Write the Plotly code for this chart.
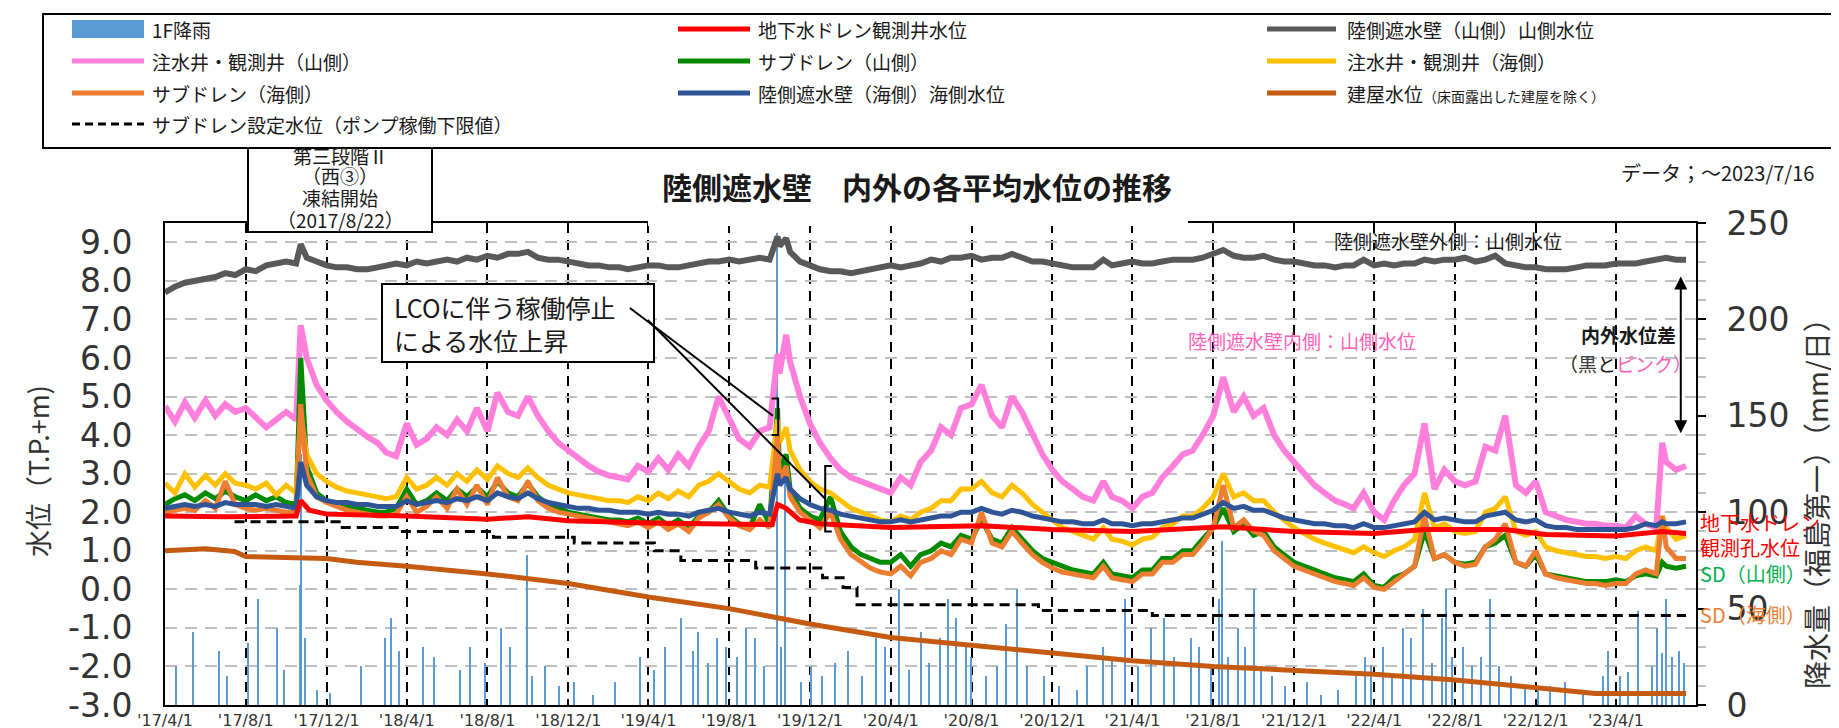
import plotly.graph_objects as go
from datetime import date, timedelta

# ---------------- data ----------------
EVENT_DATES = ["2017-10-23", "2019-10-13", "2019-10-26", "2023-06-10"]


def semi_monthly(y0, m0, y1, m1):
    out = []
    y, m = y0, m0
    while (y, m) <= (y1, m1):
        out += [f"{y}-{m:02d}-01", f"{y}-{m:02d}-16"]
        m += 1
        if m == 13:
            y, m = y + 1, 1
    return out


obs_dates = sorted(semi_monthly(2017, 4, 2023, 7) + EVENT_DATES)

# 陸側遮水壁（山側）山側水位
gray_level = [
    7.70, 7.85, 7.95, 8.00, 8.05, 8.10, 8.20, 8.15, 8.30, 8.25, 8.40, 8.45, 8.50, 8.45, 8.95, 8.60, 8.50, 8.40, 8.35,
    8.35, 8.30, 8.30, 8.35, 8.40, 8.45, 8.40, 8.50, 8.45, 8.50, 8.55, 8.50, 8.60, 8.55, 8.65, 8.60, 8.70, 8.70, 8.75, 8.60, 8.55, 8.55, 8.50, 8.45,
    8.40, 8.40, 8.35, 8.35, 8.30, 8.35, 8.40, 8.40, 8.35, 8.35, 8.40, 8.45, 8.50, 8.50, 8.55, 8.50, 8.55, 8.60, 8.55, 9.15, 8.90, 9.10, 8.75, 8.50, 8.40, 8.30,
    8.25, 8.25, 8.20, 8.25, 8.30, 8.35, 8.40, 8.35, 8.40, 8.45, 8.55, 8.50, 8.60, 8.60, 8.65, 8.55, 8.60, 8.60, 8.70, 8.60, 8.50, 8.50, 8.45, 8.40,
    8.35, 8.35, 8.35, 8.55, 8.40, 8.45, 8.50, 8.45, 8.45, 8.50, 8.55, 8.55, 8.55, 8.60, 8.70, 8.80, 8.65, 8.60, 8.60, 8.65, 8.55, 8.50, 8.50, 8.45,
    8.40, 8.40, 8.35, 8.40, 8.40, 8.55, 8.40, 8.45, 8.40, 8.45, 8.45, 8.55, 8.50, 8.55, 8.55, 8.60, 8.50, 8.55, 8.65, 8.45, 8.40, 8.35, 8.35, 8.30,
    8.30, 8.30, 8.35, 8.40, 8.40, 8.40, 8.45, 8.45, 8.45, 8.50, 8.55, 8.55, 8.60, 8.55, 8.55,
]
# 注水井・観測井（山側）
pink_level = [
    4.75, 4.35, 4.85, 4.45, 4.90, 4.50, 4.80, 4.60, 4.70, 4.45, 4.20, 4.40, 4.60, 4.40, 6.85, 6.00, 5.30, 4.90, 4.60,
    4.35, 4.15, 3.95, 3.80, 3.55, 3.45, 4.30, 3.75, 3.90, 4.20, 4.00, 4.40, 4.10, 4.70, 4.10, 5.10, 4.60, 4.50, 5.00, 4.50, 4.10, 3.80, 3.60, 3.40,
    3.20, 3.05, 2.95, 2.90, 2.85, 3.20, 3.05, 3.40, 3.10, 3.50, 3.20, 3.70, 4.10, 5.00, 4.40, 3.90, 3.70, 4.10, 4.20, 6.10, 5.60, 6.60, 5.90, 5.00, 4.30, 3.80,
    3.40, 3.10, 2.90, 2.80, 2.70, 2.60, 2.50, 2.90, 2.70, 3.30, 3.60, 4.20, 4.00, 4.70, 4.80, 5.30, 4.50, 4.20, 5.00, 4.60, 4.00, 3.50, 3.10, 2.80,
    2.60, 2.40, 2.30, 2.80, 2.40, 2.30, 2.10, 2.40, 2.50, 2.90, 3.20, 3.50, 3.60, 4.00, 4.50, 5.50, 4.60, 5.00, 4.50, 4.70, 4.00, 3.60, 3.30, 3.00,
    2.70, 2.50, 2.30, 2.20, 2.10, 2.50, 2.00, 1.80, 2.30, 2.70, 3.00, 4.30, 2.60, 3.10, 2.80, 2.70, 2.80, 3.70, 3.60, 4.50, 2.70, 2.50, 2.80, 2.00,
    1.90, 1.80, 1.75, 1.70, 1.70, 1.65, 1.65, 1.60, 1.90, 1.70, 1.60, 3.80, 3.30, 3.10, 3.20,
]
# 注水井・観測井（海側）
yellow_level = [
    2.75, 2.50, 3.00, 2.65, 2.95, 2.70, 3.00, 2.75, 2.70, 2.60, 2.75, 2.45, 2.70, 2.50, 4.50, 3.50, 3.00, 2.80, 2.65,
    2.55, 2.50, 2.45, 2.40, 2.35, 2.40, 2.90, 2.60, 2.70, 2.90, 2.70, 3.00, 2.80, 3.10, 2.85, 3.20, 3.00, 2.90, 3.15, 2.90, 2.70, 2.60, 2.50, 2.45,
    2.40, 2.35, 2.30, 2.30, 2.25, 2.40, 2.30, 2.50, 2.35, 2.55, 2.40, 2.70, 2.80, 3.00, 2.80, 2.60, 2.50, 2.70, 2.65, 4.40, 3.80, 4.20, 3.60, 3.10, 2.80, 2.60,
    2.50, 2.30, 2.10, 2.00, 1.90, 1.80, 1.75, 1.90, 1.80, 2.00, 2.10, 2.30, 2.30, 2.60, 2.60, 2.80, 2.50, 2.40, 2.70, 2.50, 2.20, 2.00, 1.80, 1.60,
    1.50, 1.40, 1.30, 1.60, 1.30, 1.25, 1.15, 1.30, 1.35, 1.60, 1.70, 1.90, 1.90, 2.10, 2.40, 3.00, 2.40, 2.50, 2.30, 2.30, 2.00, 1.80, 1.60, 1.45,
    1.30, 1.20, 1.10, 1.00, 0.95, 1.10, 0.95, 0.85, 1.00, 1.10, 1.30, 2.50, 1.60, 1.70, 1.50, 1.45, 1.50, 2.00, 2.10, 2.40, 1.50, 1.40, 1.50, 1.10,
    1.00, 0.95, 0.90, 0.85, 0.85, 0.80, 0.85, 0.80, 1.00, 1.10, 1.00, 1.90, 1.60, 1.30, 1.40,
]
# サブドレン（山側）
green_level = [
    2.20, 2.35, 2.45, 2.30, 2.50, 2.35, 2.55, 2.40, 2.30, 2.45, 2.30, 2.40, 2.25, 2.20, 6.00, 3.20, 2.50, 2.30, 2.20,
    2.15, 2.10, 2.05, 2.00, 2.00, 2.10, 2.60, 2.20, 2.30, 2.50, 2.30, 2.60, 2.40, 2.65, 2.40, 2.80, 2.50, 2.40, 2.75, 2.40, 2.20, 2.10, 2.00, 1.95,
    1.90, 1.85, 1.80, 1.80, 1.75, 1.85, 1.70, 1.85, 1.65, 1.80, 1.60, 1.90, 2.00, 2.30, 1.90, 1.70, 1.60, 2.20, 1.70, 4.70, 3.00, 3.50, 2.60, 2.10, 1.90, 1.80,
    2.40, 1.50, 1.10, 0.90, 0.80, 0.70, 0.70, 0.90, 0.60, 0.90, 1.00, 1.20, 1.10, 1.40, 1.30, 1.80, 1.30, 1.20, 1.60, 1.30, 1.00, 0.80, 0.70, 0.60,
    0.50, 0.45, 0.40, 0.70, 0.40, 0.35, 0.30, 0.50, 0.50, 0.80, 0.80, 1.00, 1.00, 1.30, 1.60, 2.10, 1.50, 1.70, 1.40, 1.50, 1.10, 0.90, 0.70, 0.60,
    0.50, 0.40, 0.30, 0.25, 0.20, 0.40, 0.10, 0.05, 0.30, 0.40, 0.60, 1.50, 0.80, 0.90, 0.70, 0.65, 0.70, 1.10, 1.20, 1.40, 0.70, 0.60, 0.90, 0.40,
    0.35, 0.30, 0.25, 0.20, 0.20, 0.20, 0.25, 0.20, 0.35, 0.40, 0.35, 0.70, 0.60, 0.55, 0.60,
]
# サブドレン（海側）
orange_level = [
    2.00, 2.05, 2.10, 2.05, 2.30, 2.10, 2.80, 2.20, 2.10, 2.05, 2.10, 2.05, 2.00, 2.00, 4.80, 3.00, 2.40, 2.25, 2.15,
    2.05, 2.00, 1.95, 1.90, 1.90, 1.95, 2.40, 2.00, 2.15, 2.40, 2.10, 2.60, 2.20, 2.70, 2.20, 2.90, 2.40, 2.30, 2.80, 2.30, 2.10, 2.00, 1.95, 1.90,
    1.85, 1.80, 1.75, 1.70, 1.65, 1.75, 1.60, 1.75, 1.55, 1.70, 1.50, 1.85, 2.00, 2.20, 1.85, 1.65, 1.55, 1.80, 1.60, 4.00, 2.80, 3.20, 2.40, 2.00, 1.80, 1.60,
    2.00, 1.30, 0.90, 0.70, 0.55, 0.45, 0.40, 0.60, 0.35, 0.70, 0.80, 1.00, 0.90, 1.30, 1.20, 2.00, 1.20, 1.10, 1.50, 1.20, 0.90, 0.70, 0.55, 0.45,
    0.40, 0.35, 0.30, 0.60, 0.30, 0.25, 0.20, 0.40, 0.40, 0.70, 0.70, 0.90, 0.90, 1.20, 1.60, 2.70, 1.60, 1.80, 1.50, 1.40, 1.00, 0.80, 0.60, 0.50,
    0.40, 0.30, 0.20, 0.15, 0.10, 0.30, 0.05, 0.00, 0.20, 0.40, 0.60, 1.90, 0.80, 0.90, 0.70, 0.60, 0.65, 1.10, 1.30, 1.70, 0.70, 0.60, 1.00, 0.40,
    0.30, 0.25, 0.20, 0.15, 0.15, 0.10, 0.15, 0.15, 0.40, 0.50, 0.40, 1.90, 1.10, 0.80, 0.80,
]
# 陸側遮水壁（海側）海側水位
blue_level = [
    2.10, 2.15, 2.20, 2.15, 2.20, 2.15, 2.25, 2.20, 2.20, 2.20, 2.15, 2.20, 2.15, 2.10, 3.30, 2.70, 2.40, 2.30, 2.25,
    2.25, 2.20, 2.20, 2.15, 2.15, 2.15, 2.30, 2.20, 2.25, 2.30, 2.25, 2.35, 2.30, 2.40, 2.30, 2.50, 2.40, 2.35, 2.50, 2.35, 2.25, 2.20, 2.15, 2.10,
    2.10, 2.05, 2.05, 2.00, 2.00, 2.00, 1.95, 2.00, 1.95, 1.95, 1.90, 2.00, 2.05, 2.10, 2.00, 1.95, 1.90, 2.00, 1.95, 3.00, 2.70, 2.90, 2.60, 2.35, 2.20, 2.10,
    2.05, 1.95, 1.90, 1.85, 1.80, 1.75, 1.75, 1.80, 1.75, 1.80, 1.85, 1.90, 1.90, 2.00, 2.00, 2.10, 2.00, 1.95, 2.05, 2.00, 1.90, 1.85, 1.80, 1.75,
    1.75, 1.70, 1.70, 1.80, 1.70, 1.70, 1.65, 1.70, 1.70, 1.75, 1.80, 1.85, 1.85, 1.95, 2.05, 2.25, 2.10, 2.15, 2.05, 2.05, 1.95, 1.85, 1.80, 1.75,
    1.70, 1.70, 1.65, 1.65, 1.60, 1.70, 1.60, 1.60, 1.65, 1.70, 1.75, 2.00, 1.80, 1.85, 1.80, 1.75, 1.75, 1.90, 1.95, 2.00, 1.80, 1.75, 1.80, 1.65,
    1.60, 1.60, 1.55, 1.55, 1.55, 1.55, 1.55, 1.55, 1.60, 1.70, 1.65, 1.75, 1.70, 1.70, 1.75,
]

# 地下水ドレン観測井水位
red_dates = ["2017-04-01", "2017-07-01", "2017-10-16", "2017-10-23", "2017-11-05", "2017-12-01", "2018-04-01",
             "2018-08-01", "2018-10-01", "2018-12-01", "2019-04-01", "2019-08-01", "2019-10-05", "2019-10-13",
             "2019-10-26", "2019-11-15", "2019-12-15", "2020-04-01", "2020-08-16", "2020-12-01", "2021-04-01",
             "2021-08-16", "2021-12-01", "2022-04-01", "2022-06-16", "2022-10-16", "2022-12-16", "2023-04-01",
             "2023-06-10", "2023-07-16"]
red_level = [1.90, 1.88, 1.90, 2.30, 2.05, 1.95, 1.90, 1.82, 1.88, 1.78, 1.72, 1.68, 1.68, 2.20, 2.10, 1.80, 1.70,
             1.60, 1.65, 1.55, 1.50, 1.62, 1.50, 1.45, 1.55, 1.55, 1.42, 1.38, 1.50, 1.45]

# 建屋水位
bldg_dates = ["2017-04-01", "2017-06-01", "2017-07-15", "2017-08-01", "2017-12-01", "2018-01-15", "2018-04-01",
              "2018-08-01", "2018-12-01", "2019-04-01", "2019-08-01", "2019-12-01", "2020-04-01", "2020-08-01",
              "2020-12-01", "2021-04-01", "2021-08-01", "2021-12-01", "2022-04-01", "2022-08-01", "2022-12-01",
              "2023-03-01", "2023-07-16"]
bldg_level = [1.00, 1.05, 0.98, 0.85, 0.80, 0.70, 0.60, 0.40, 0.15, -0.20, -0.50, -0.90, -1.25, -1.45, -1.65,
              -1.85, -2.00, -2.10, -2.20, -2.35, -2.55, -2.70, -2.70]

# サブドレン設定水位（ポンプ稼働下限値）
setpoint_dates = ["2017-07-15", "2017-12-20", "2018-03-20", "2018-08-10", "2018-12-10", "2019-04-10",
                  "2019-05-20", "2019-09-10", "2019-12-20", "2020-01-20", "2020-02-10", "2020-11-10", "2021-05-01",
                  "2023-07-16"]
setpoint_level = [1.75, 1.60, 1.50, 1.35, 1.20, 1.00, 0.75, 0.55, 0.30, 0.05, -0.40, -0.55, -0.68, -0.68]

# 1F降雨 (mm/日)
rain_dates = [
    "2017-04-18", "2017-05-13", "2017-06-21", "2017-07-04", "2017-08-05", "2017-08-19", "2017-09-17", "2017-09-28",
    "2017-10-22", "2017-10-23", "2017-10-29", "2017-11-16", "2017-12-06",
    "2018-01-22", "2018-02-28", "2018-03-09", "2018-03-21", "2018-04-25", "2018-05-13", "2018-06-20", "2018-07-05",
    "2018-07-29", "2018-08-21", "2018-09-04", "2018-09-30", "2018-10-07", "2018-10-27", "2018-11-17", "2018-12-10",
    "2019-01-08", "2019-02-10", "2019-03-19", "2019-04-10", "2019-04-26", "2019-05-20", "2019-06-07", "2019-06-15",
    "2019-06-30", "2019-07-14", "2019-07-27", "2019-08-13", "2019-08-27", "2019-09-09", "2019-09-22", "2019-10-12",
    "2019-10-18", "2019-10-25", "2019-11-18", "2019-12-03", "2019-12-19",
    "2020-01-08", "2020-01-27", "2020-02-17", "2020-03-10", "2020-03-23", "2020-04-13", "2020-04-29", "2020-05-17",
    "2020-05-29", "2020-06-14", "2020-06-26", "2020-07-08", "2020-07-24", "2020-07-31", "2020-08-23", "2020-09-09",
    "2020-09-22", "2020-10-09", "2020-10-24", "2020-11-19", "2020-12-11",
    "2021-01-08", "2021-01-23", "2021-02-15", "2021-03-01", "2021-03-21", "2021-04-10", "2021-04-29", "2021-05-19",
    "2021-06-03", "2021-06-28", "2021-07-10", "2021-07-29", "2021-08-09", "2021-08-14", "2021-08-24", "2021-09-08",
    "2021-09-18", "2021-10-01", "2021-10-12", "2021-10-28", "2021-11-18", "2021-12-21",
    "2022-01-10", "2022-02-05", "2022-03-04", "2022-03-18", "2022-03-27", "2022-04-14", "2022-04-28", "2022-05-14",
    "2022-05-27", "2022-06-14", "2022-06-28", "2022-07-12", "2022-07-19", "2022-07-28", "2022-08-13", "2022-08-27",
    "2022-09-10", "2022-09-23", "2022-10-06", "2022-10-25", "2022-11-15", "2022-12-05", "2022-12-23",
    "2023-01-14", "2023-02-10", "2023-03-12", "2023-03-20", "2023-04-08", "2023-04-20", "2023-05-05", "2023-05-25",
    "2023-06-02", "2023-06-09", "2023-06-15", "2023-06-25", "2023-07-05", "2023-07-13",
]
rain_mm = [
    20, 38, 28, 15, 32, 55, 40, 18, 62, 130, 35, 8, 6,
    20, 35, 45, 28, 30, 25, 18, 30, 22, 40, 30, 78, 15, 20, 10, 12,
    5, 12, 25, 18, 30, 45, 28, 38, 22, 35, 30, 25, 40, 35, 20, 245, 30, 118, 12, 20, 15,
    22, 28, 15, 35, 30, 60, 18, 38, 22, 35, 55, 45, 30, 25, 15, 20, 42, 60, 20, 15, 10,
    8, 20, 30, 25, 55, 20, 40, 45, 25, 35, 30, 20, 55, 85, 25, 40, 30, 60, 20, 15, 10, 12,
    5, 8, 15, 25, 20, 30, 15, 40, 35, 50, 22, 45, 60, 25, 30, 20, 25, 55, 20, 15, 10, 8, 10,
    12, 8, 15, 28, 15, 17, 49, 20, 40, 27, 55, 25, 28, 22,
]

level_ticks = [-3.0, -2.0, -1.0, 0.0, 1.0, 2.0, 3.0, 4.0, 5.0, 6.0, 7.0, 8.0, 9.0]
level_tick_text = [f"{v:.1f}" for v in level_ticks]
rain_ticks = [0, 50, 100, 150, 200, 250]

for s in (gray_level, pink_level, yellow_level, green_level, orange_level, blue_level):
    assert len(s) == len(obs_dates), len(s)
assert len(rain_dates) == len(rain_mm)

# ---------------- geometry ----------------
FIG_W, FIG_H = 1839, 728
ML, MR, MT, MB = 157, 151, 215, 31
PW, PH = FIG_W - ML - MR, FIG_H - MT - MB
X0, X1 = date(2017, 4, 1), date(2023, 7, 31)
Y0, Y1 = -3.0, 9.5


def px(x):
    return (x - ML) / PW


def py(y):
    return (FIG_H - MB - y) / PH


def px_date(x):
    return (X0 + timedelta(days=round((x - ML) / PW * (X1 - X0).days))).isoformat()


def py_val(y):
    return Y0 + (FIG_H - MB - y) / PH * (Y1 - Y0)


JP = "Noto Sans CJK JP"
NUM = "DejaVu Sans"
PINK = "#FF7FDA"
PINK_TXT = "#FF5FB8"
TXT = "#1a1a1a"

fig = go.Figure()
fig.add_trace(go.Bar(x=rain_dates, y=rain_mm, xaxis="x", yaxis="y", width=1.6 * 86400000,
                     marker=dict(color="#5B9BD5", line=dict(width=0)), name="1F降雨"))

series = [
    (bldg_dates, bldg_level, "#C55A11", 5, "solid", "linear"),
    (setpoint_dates, setpoint_level, "#000000", 3, "10px,6px", "hv"),
    (obs_dates, gray_level, "#595959", 6, "solid", "linear"),
    (obs_dates, pink_level, PINK, 6, "solid", "linear"),
    (obs_dates, green_level, "#008A00", 5, "solid", "linear"),
    (obs_dates, yellow_level, "#FFC000", 5, "solid", "linear"),
    (obs_dates, orange_level, "#ED7D31", 5, "solid", "linear"),
    (obs_dates, blue_level, "#2F5597", 5, "solid", "linear"),
    (red_dates, red_level, "#FF0000", 5, "solid", "linear"),
]
for xs, ys, col, w, dash, shape in series:
    fig.add_trace(go.Scatter(x=xs, y=ys, mode="lines", xaxis="x", yaxis="y2",
                             line=dict(color=col, width=w, dash=dash, shape=shape)))

shapes = []
annotations = []


def label(x, y, text, size, color=TXT, xanchor="center", **kw):
    annotations.append(dict(xref="paper", yref="paper", x=px(x), y=py(y), xanchor=xanchor, yanchor="middle",
                            text=text, showarrow=False, font=dict(family=JP, size=size, color=color), **kw))


# title background & freeze box (cover the frame line)
shapes.append(dict(type="rect", xref="paper", yref="paper", x0=px(640), x1=px(1180), y0=py(218), y1=py(148),
                   fillcolor="white", line=dict(width=0), layer="above"))
shapes.append(dict(type="rect", xref="paper", yref="paper", x0=px(240), x1=px(424), y0=py(224), y1=py(140),
                   fillcolor="white", line=dict(color="black", width=2), layer="above"))
# legend box
shapes.append(dict(type="rect", xref="paper", yref="paper", x0=px(35), x1=px(1860), y0=py(140), y1=py(6),
                   fillcolor="rgba(0,0,0,0)", line=dict(color="black", width=2), layer="above"))

c1, c2, c3 = (64, 136, 142), (670, 742, 748), (1259, 1328, 1337)
r1, r2, r3, r4 = 21, 53, 85, 116
legend_items = [
    (c1, r1, "bar", "#5B9BD5", "1F降雨"),
    (c2, r1, "line", "#FF0000", "地下水ドレン観測井水位"),
    (c3, r1, "line", "#595959", "陸側遮水壁（山側）山側水位"),
    (c1, r2, "line", PINK, "注水井・観測井（山側）"),
    (c2, r2, "line", "#008A00", "サブドレン（山側）"),
    (c3, r2, "line", "#FFC000", "注水井・観測井（海側）"),
    (c1, r3, "line", "#ED7D31", "サブドレン（海側）"),
    (c2, r3, "line", "#2F5597", "陸側遮水壁（海側）海側水位"),
    (c3, r3, "line", "#C55A11", "建屋水位<span style='font-size:14px'>（床面露出した建屋を除く）</span>"),
    (c1, r4, "dash", "#000000", "サブドレン設定水位（ポンプ稼働下限値）"),
]
for (sx0, sx1, tx), row, kind, col, text in legend_items:
    if kind == "bar":
        shapes.append(dict(type="rect", xref="paper", yref="paper", x0=px(sx0), x1=px(sx1),
                           y0=py(row + 9), y1=py(row - 9), fillcolor=col, line=dict(width=0), layer="above"))
    else:
        shapes.append(dict(type="line", xref="paper", yref="paper", x0=px(sx0), x1=px(sx1), y0=py(row), y1=py(row),
                           line=dict(color=col, width=5 if kind == "line" else 3,
                                     dash="solid" if kind == "line" else "8px,5px"), layer="above"))
    label(tx, row, text, 19, xanchor="left")

# title
label(909, 178, "<b>陸側遮水壁　内外の各平均水位の推移</b>", 30)
# freeze box text (one annotation per line for tight spacing)
for txt, yy in [("第三段階Ⅱ", 147), ("（西③）", 168), ("凍結開始", 190), ("（2017/8/22）", 211)]:
    label(332, yy, txt, 19)
# data date
label(1808, 165, "データ；～2023/7/16", 20, xanchor="right")

# LCO box
shapes.append(dict(type="rect", xref="paper", yref="paper", x0=px(374), x1=px(646), y0=py(354), y1=py(276),
                   fillcolor="white", line=dict(color="black", width=2), layer="above"))
label(384, 315, "LCOに伴う稼働停止<br>による水位上昇", 25, xanchor="left", align="left")
# leader lines (start from box, end at brackets)
shapes.append(dict(type="line", xref="x", yref="y2", x0=px_date(622), y0=py_val(300), x1="2019-10-06", y1=4.50,
                   line=dict(color="black", width=2), layer="above"))
shapes.append(dict(type="line", xref="x", yref="y2", x0=px_date(640), y0=py_val(312), x1="2019-12-24", y1=2.35,
                   line=dict(color="black", width=2), layer="above"))
# brackets
shapes.append(dict(type="path", xref="x", yref="y2",
                   path="M 2019-10-04,4.95 L 2019-10-14,4.95 L 2019-10-14,4.00 L 2019-10-04,4.00",
                   line=dict(color="black", width=2), layer="above"))
shapes.append(dict(type="path", xref="x", yref="y2",
                   path="M 2020-01-03,3.20 L 2019-12-24,3.20 L 2019-12-24,1.50 L 2020-01-03,1.50",
                   line=dict(color="black", width=2), layer="above"))

# in-plot labels
label(1440, 232, "陸側遮水壁外側：山側水位", 19)
label(1294, 332, "陸側遮水壁内側：山側水位", 19, color=PINK_TXT)
label(1620, 326, "<b>内外水位差</b>", 19)
label(1617, 355, "（<span style='color:#404040'>黒</span>と<span style='color:" + PINK_TXT + "'>ピンク）</span>", 19)
annotations.append(dict(xref="x", yref="y2", axref="x", ayref="y2", x="2023-07-08", y=4.05,
                        ax="2023-07-08", ay=8.15, text="", showarrow=True, arrowhead=2, startarrowhead=2,
                        arrowside="end+start", arrowwidth=2, arrowsize=1.3, arrowcolor="black",
                        startarrowsize=1.3))

# right side series labels
for txt, yy, col in [("地下水ドレン", 514, "#FF0000"), ("観測孔水位", 539, "#FF0000"),
                     ("SD（山側）", 565, "#00B050"), ("SD（海側）", 606, "#ED7D31")]:
    label(1690, yy, txt, 20, color=col, xanchor="left")

# axis titles
label(29, 463, "水位（T.P.+m)", 27, color="#333333", textangle=-90)
label(1808, 488, "降水量（福島第一）（mm/日）", 28, color="#333333", textangle=-90)

fig.update_layout(
    template="none",
    width=FIG_W, height=FIG_H,
    margin=dict(l=ML, r=MR, t=MT, b=MB, pad=0),
    paper_bgcolor="white", plot_bgcolor="white",
    showlegend=False, bargap=0,
    font=dict(family=JP),
    xaxis=dict(type="date", range=[X0.isoformat(), X1.isoformat()], tick0="2017-04-01", dtick="M4",
               tickformat="'%y/%-m/%-d", tickfont=dict(family=NUM, size=16, color="#333333"),
               showgrid=True, gridcolor="black", gridwidth=2, griddash="10px,7px",
               showline=True, linecolor="black", linewidth=2, mirror=True, ticks="", zeroline=False),
    xaxis2=dict(type="date", overlaying="x", anchor="y", side="top", range=[X0.isoformat(), X1.isoformat()],
                tick0="2017-04-01", dtick="M4", showticklabels=False, ticks="outside", ticklen=8, tickwidth=2,
                tickcolor="black", showgrid=False, showline=True, linecolor="black", linewidth=2, zeroline=False),
    yaxis=dict(side="right", range=[0, 250], tickvals=rain_ticks, showgrid=False, zeroline=False,
               showline=True, linecolor="black", linewidth=2, ticks="outside", ticklen=8, tickwidth=2,
               tickcolor="black", ticklabelstandoff=14, tickfont=dict(family=NUM, size=33, color="#333333"),
               minor=dict(ticks="outside", ticklen=8, tickwidth=2, tickcolor="#BFBFBF", dtick=10, showgrid=False)),
    yaxis2=dict(side="left", overlaying="y", range=[Y0, Y1], tickvals=level_ticks, ticktext=level_tick_text,
                showgrid=True, gridcolor="#BFBFBF", gridwidth=2, griddash="12px,8px", zeroline=False,
                showline=True, linecolor="black", linewidth=2, ticks="", ticklabelstandoff=24,
                tickfont=dict(family=NUM, size=33, color="#333333")),
    shapes=shapes,
    annotations=annotations,
)

fig.write_html("out.html")
